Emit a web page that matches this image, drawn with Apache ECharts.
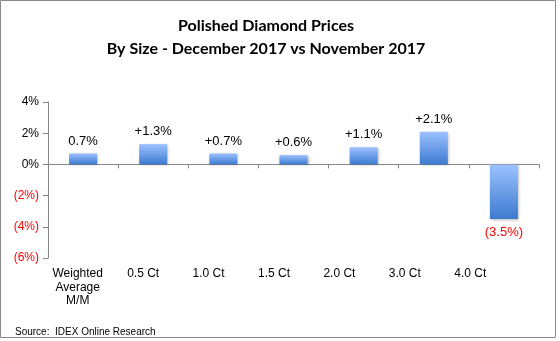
<!DOCTYPE html>
<html><head><meta charset="utf-8">
<script src="https://cdn.jsdelivr.net/npm/echarts@6/dist/echarts.min.js"></script>
<style>html,body{margin:0;padding:0;background:#fff}#c{width:560px;height:341px}</style>
</head><body><div id="c"></div>
<script>
var categories = ['Weighted\nAverage\nM/M', '0.5 Ct', '1.0 Ct', '1.5 Ct', '2.0 Ct', '3.0 Ct', '4.0 Ct'];
var values = [0.7, 1.3, 0.7, 0.6, 1.1, 2.1, -3.5];
var valueLabels = ['0.7%', '+1.3%', '+0.7%', '+0.6%', '+1.1%', '+2.1%', '(3.5%)'];
var yTicks = [-6, -4, -2, 0, 2, 4];

var chart = echarts.init(document.getElementById('c'), null, {renderer: 'canvas'});
var grad = new echarts.graphic.LinearGradient(0, 0, 0, 1, [
  {offset: 0, color: '#9cc2ff'},
  {offset: 1, color: '#3d7ad0'}
]);
var barData = values.map(function (v, i) {
  return {
    value: v,
    label: {
      position: v < 0 ? 'bottom' : 'top',
      color: v < 0 ? '#ff0000' : '#000000',
      distance: v < 0 ? 7 : 6
    }
  };
});
chart.setOption({
  animation: false,
  title: {
    text: 'Polished Diamond Prices\nBy Size - December 2017 vs November 2017',
    left: 261, top: 9, textAlign: 'center',
    textStyle: {fontFamily: 'Lato', fontWeight: 'bold', fontSize: 16, lineHeight: 23, color: '#000'}
  },
  grid: [
    {left: 48, right: 21, top: 102, bottom: 83, containLabel: false},
    {left: 45, right: 57, top: 102, bottom: 83, containLabel: false}
  ],
  xAxis: [{
    type: 'category', data: categories, position: 'bottom', gridIndex: 0,
    axisLine: {onZero: true, lineStyle: {color: '#868686', width: 1}},
    axisTick: {show: true, length: 4, lineStyle: {color: '#868686'}},
    axisLabel: {show: false},
    splitLine: {show: false}
  }, {
    type: 'category', data: categories, position: 'bottom', gridIndex: 1,
    axisLine: {show: false, onZero: false},
    axisTick: {show: false},
    axisLabel: {show: true, margin: 9, interval: 0, fontFamily: 'Liberation Sans', fontSize: 12, color: '#000', lineHeight: 13.5},
    splitLine: {show: false}
  }],
  yAxis: [{
    type: 'value', min: yTicks[0], max: yTicks[yTicks.length - 1], interval: 2, gridIndex: 0,
    axisLine: {show: true, lineStyle: {color: '#868686'}},
    axisTick: {show: true, length: 5, lineStyle: {color: '#868686'}},
    splitLine: {show: false},
    axisLabel: {
      margin: 9, fontFamily: 'Liberation Sans', fontSize: 12,
      formatter: function (v) { return v < 0 ? '(' + (-v) + '%)' : v + '%'; },
      color: function (v) { return Number(v) < 0 ? '#ff0000' : '#000000'; }
    }
  }, {
    type: 'value', min: yTicks[0], max: yTicks[yTicks.length - 1], interval: 2, gridIndex: 1, show: false
  }],
  series: [{
    type: 'bar', data: barData, xAxisIndex: 0, yAxisIndex: 0, barCategoryGap: '60%',
    itemStyle: {color: grad, shadowColor: 'rgba(0,0,0,0.3)', shadowBlur: 3, shadowOffsetX: 1, shadowOffsetY: 1},
    label: {
      show: true, fontFamily: 'Liberation Sans', fontSize: 13,
      formatter: function (p) { return valueLabels[p.dataIndex]; }
    }
  }],
  graphic: [{
    type: 'rect', shape: {x: 0.5, y: 0.5, width: 555, height: 337},
    style: {fill: 'none', stroke: '#8a8a8a', lineWidth: 1}, silent: true
  }, {
    type: 'text', left: 15, top: 327,
    style: {text: 'Source:  IDEX Online Research', font: '10px "Liberation Sans"', fill: '#000'}
  }]
});
</script></body></html>
